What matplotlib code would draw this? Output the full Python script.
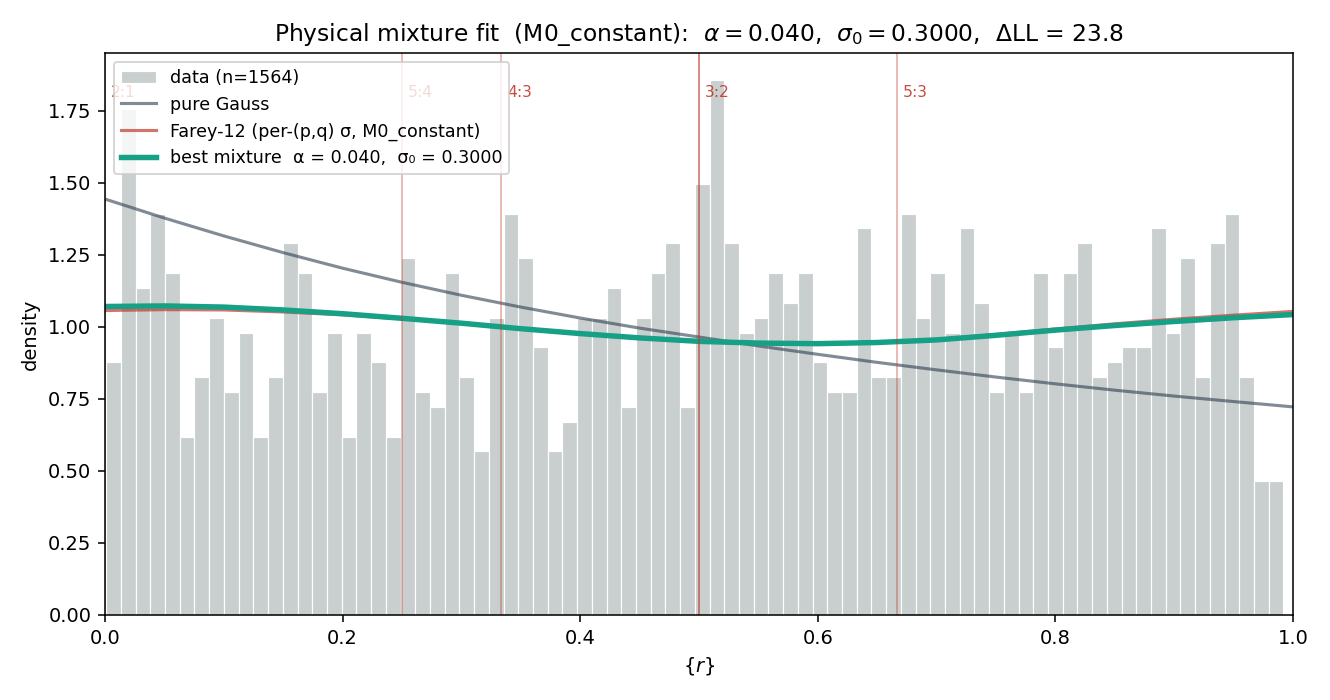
import matplotlib
matplotlib.use("Agg")
import matplotlib.pyplot as plt
import matplotlib.transforms as mtransforms
import numpy as np

# histogram of {r}: 80 bins between data min and max, counts per bin
n_total = 1564
r_min, r_max = 0.001, 0.992
counts = [17, 34, 22, 27, 23, 12, 16, 20, 15, 19,
          12, 16, 25, 23, 15, 19, 12, 19, 17, 12,
          24, 15, 14, 23, 16, 11, 20, 27, 24, 18,
          11, 13, 20, 20, 22, 14, 20, 23, 25, 14,
          29, 36, 25, 19, 20, 23, 21, 23, 17, 15,
          15, 26, 16, 16, 27, 20, 23, 19, 26, 21,
          15, 19, 15, 23, 18, 23, 25, 16, 17, 18,
          18, 26, 19, 24, 16, 25, 27, 16, 9, 9]

r_grid = [0.00, 0.05, 0.10, 0.15, 0.20, 0.25, 0.30, 0.35, 0.40, 0.45, 0.50,
          0.55, 0.60, 0.65, 0.70, 0.75, 0.80, 0.85, 0.90, 0.95, 1.00]
gauss = [1.444, 1.378, 1.316, 1.258, 1.204, 1.155, 1.110, 1.069, 1.031, 0.996, 0.965,
         0.934, 0.905, 0.877, 0.851, 0.826, 0.8025, 0.7805, 0.760, 0.741, 0.7225]
farey = [1.057, 1.060, 1.059, 1.052, 1.042, 1.028, 1.012, 0.994, 0.977, 0.962, 0.951,
         0.945, 0.943, 0.947, 0.957, 0.974, 0.993, 1.011, 1.027, 1.041, 1.054]
mixture = [1.071, 1.073, 1.069, 1.059, 1.046, 1.030, 1.013, 0.994, 0.977, 0.962, 0.950,
           0.944, 0.942, 0.946, 0.955, 0.971, 0.989, 1.005, 1.019, 1.032, 1.043]

# resonances p:q, marked at the fractional part of p/q
ratios_p = [2, 5, 4, 3, 5]
ratios_q = [1, 4, 3, 2, 3]
line_alpha = [0.35, 0.35, 0.35, 0.6, 0.35]

alpha_fit = 0.040
sigma0_fit = 0.3000
delta_ll = 23.8

edges = np.linspace(r_min, r_max, len(counts) + 1)
widths = np.diff(edges)
density = np.array(counts) / (n_total * widths)

fig, ax = plt.subplots(figsize=(9.5, 5), dpi=140)
fig.subplots_adjust(left=105 / 1330, right=1293 / 1330, top=1 - 53 / 700, bottom=1 - 615 / 700)

bars = ax.bar(edges[:-1], density, width=widths, align='edge', color='#c9cfce',
              edgecolor='white', linewidth=0.6, label=f'data (n={n_total})')
l_gauss, = ax.plot(r_grid, gauss, color='#2c3e50', alpha=0.6, lw=1.6, label='pure Gauss')
l_farey, = ax.plot(r_grid, farey, color='#c0392b', alpha=0.7, lw=1.6,
                   label='Farey-12 (per-(p,q) σ, M0_constant)')
l_mix, = ax.plot(r_grid, mixture, color='#16a085', lw=2.8,
                 label=f'best mixture  α = {alpha_fit:.3f},  σ₀ = {sigma0_fit:.4f}')

trans = mtransforms.blended_transform_factory(ax.transData, ax.transAxes)
for p, q, la in zip(ratios_p, ratios_q, line_alpha):
    r = (p / q) % 1.0
    ax.axvline(r, color='#c0392b', alpha=la, lw=1.0)
    ax.text(r + 0.005, 0.929, f'{p}:{q}', transform=trans, color='#c0392b',
            alpha=0.9, fontsize=8, va='center', ha='left')

ax.set_xlim(0, 1)
ax.set_xlabel(r'$\{r\}$')
ax.set_ylabel('density')
ax.set_title(f'Physical mixture fit  (M0_constant):  $\\alpha = {alpha_fit:.3f}$,  '
             f'$\\sigma_0 = {sigma0_fit:.4f}$,  ΔLL = {delta_ll:.1f}', fontsize=12)
leg = ax.legend(handles=[bars, l_gauss, l_farey, l_mix], loc='upper left', fontsize=9)
leg.set_zorder(5)

fig.savefig('out.png', dpi=140)
